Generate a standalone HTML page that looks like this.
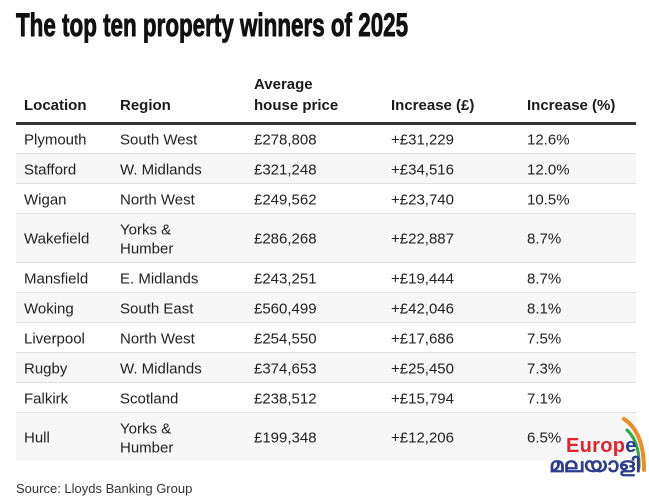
<!DOCTYPE html>
<html><head><meta charset="utf-8">
<style>
*{margin:0;padding:0;box-sizing:border-box}
body{width:649px;height:497px;background:#fff;position:relative;overflow:hidden;font-family:"Liberation Sans",sans-serif;color:#222}
.title{position:absolute;left:16px;top:7px;font-size:32px;font-weight:bold;color:#111;white-space:nowrap;transform:scaleX(0.70);transform-origin:0 0;line-height:36px;-webkit-text-stroke:0.9px #111}
.h{position:absolute;font-size:15px;font-weight:bold;color:#1a1a1a;line-height:21px;white-space:nowrap}
.hl{position:absolute;left:16px;top:122px;width:620px;height:3px;background:#333}
.row{position:absolute;left:16px;width:620px;display:flex;align-items:center}
.row.g{background:#f7f7f7}
.row.b{border-top:1px solid #e0e0e0}
.c{position:absolute;font-size:15px;line-height:19.5px;color:#222;white-space:nowrap;transform:translateY(1.5px)}
.src{position:absolute;left:16px;top:481px;font-size:13px;color:#333;white-space:nowrap}
</style></head><body>
<div class="title">The top ten property winners of 2025</div>

<div class="h" style="left:24px;top:94.5px">Location</div>
<div class="h" style="left:120px;top:94.5px">Region</div>
<div class="h" style="left:254px;top:73.5px">Average<br>house price</div>
<div class="h" style="left:391px;top:94.5px">Increase (£)</div>
<div class="h" style="left:527px;top:94.5px">Increase (%)</div>
<div class="hl"></div>

<div class="row" style="top:125px;height:28px">
<div class="c" style="left:8px">Plymouth</div><div class="c" style="left:104px">South West</div><div class="c" style="left:238px">£278,808</div><div class="c" style="left:375px">+£31,229</div><div class="c" style="left:511px">12.6%</div></div>

<div class="row g b" style="top:153px;height:30px">
<div class="c" style="left:8px">Stafford</div><div class="c" style="left:104px">W. Midlands</div><div class="c" style="left:238px">£321,248</div><div class="c" style="left:375px">+£34,516</div><div class="c" style="left:511px">12.0%</div></div>

<div class="row b" style="top:183px;height:30px">
<div class="c" style="left:8px">Wigan</div><div class="c" style="left:104px">North West</div><div class="c" style="left:238px">£249,562</div><div class="c" style="left:375px">+£23,740</div><div class="c" style="left:511px">10.5%</div></div>

<div class="row g b" style="top:213px;height:49px">
<div class="c" style="left:8px">Wakefield</div><div class="c" style="left:104px">Yorks &amp;<br>Humber</div><div class="c" style="left:238px">£286,268</div><div class="c" style="left:375px">+£22,887</div><div class="c" style="left:511px">8.7%</div></div>

<div class="row b" style="top:262px;height:30px">
<div class="c" style="left:8px">Mansfield</div><div class="c" style="left:104px">E. Midlands</div><div class="c" style="left:238px">£243,251</div><div class="c" style="left:375px">+£19,444</div><div class="c" style="left:511px">8.7%</div></div>

<div class="row g b" style="top:292px;height:30px">
<div class="c" style="left:8px">Woking</div><div class="c" style="left:104px">South East</div><div class="c" style="left:238px">£560,499</div><div class="c" style="left:375px">+£42,046</div><div class="c" style="left:511px">8.1%</div></div>

<div class="row b" style="top:322px;height:30px">
<div class="c" style="left:8px">Liverpool</div><div class="c" style="left:104px">North West</div><div class="c" style="left:238px">£254,550</div><div class="c" style="left:375px">+£17,686</div><div class="c" style="left:511px">7.5%</div></div>

<div class="row g b" style="top:352px;height:30px">
<div class="c" style="left:8px">Rugby</div><div class="c" style="left:104px">W. Midlands</div><div class="c" style="left:238px">£374,653</div><div class="c" style="left:375px">+£25,450</div><div class="c" style="left:511px">7.3%</div></div>

<div class="row b" style="top:382px;height:30px">
<div class="c" style="left:8px">Falkirk</div><div class="c" style="left:104px">Scotland</div><div class="c" style="left:238px">£238,512</div><div class="c" style="left:375px">+£15,794</div><div class="c" style="left:511px">7.1%</div></div>

<div class="row g b" style="top:412px;height:49px">
<div class="c" style="left:8px">Hull</div><div class="c" style="left:104px">Yorks &amp;<br>Humber</div><div class="c" style="left:238px">£199,348</div><div class="c" style="left:375px">+£12,206</div><div class="c" style="left:511px">6.5%</div></div>

<div class="src">Source: Lloyds Banking Group</div>

<svg style="position:absolute;left:0;top:0" width="649" height="497">
<path d="M624 419 Q644 432 644 470" stroke="#f08a24" stroke-width="4" fill="none" stroke-linecap="round"/>
<path d="M627 430 Q640 442 639 468" stroke="#2aa84a" stroke-width="3" fill="none" stroke-linecap="round"/>
</svg>
<div style="position:absolute;left:566px;top:434px;font-size:20px;font-weight:bold;line-height:24px;letter-spacing:0.3px;white-space:nowrap"><span style="color:#e3232d">Europ</span><span style="color:#2b3d91">e</span></div>
<div style="position:absolute;left:549px;top:455px;font-size:20px;font-weight:bold;color:#2b3d91;line-height:22px;white-space:nowrap;transform:scaleX(1.15);transform-origin:0 0;font-family:'Liberation Sans','DejaVu Sans',sans-serif">മലയാളി</div>
</body></html>
